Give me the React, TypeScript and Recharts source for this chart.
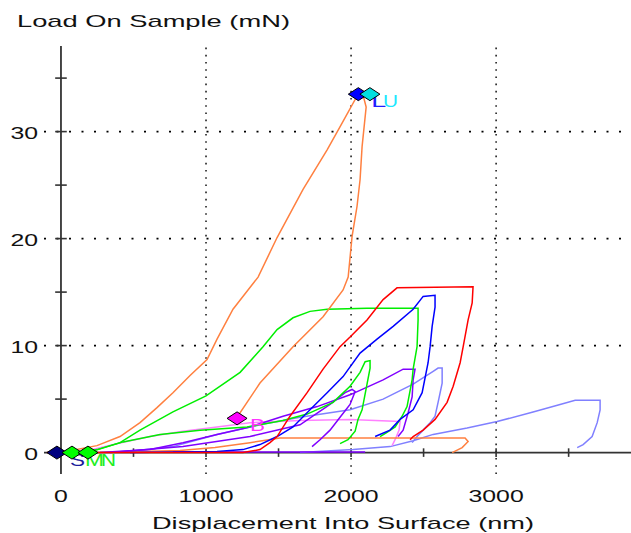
import React from "react";
import {
  ComposedChart, Line, Scatter, XAxis, YAxis, ReferenceLine,
} from "recharts";

// displacement (nm) / load (mN)
const orangeBigX = [0, 248, 407, 545, 662, 772, 890, 1007, 1076, 1186, 1359, 1490, 1669, 1835, 1938, 2028, 2041, 2083, 2104, 2076, 2062, 2041, 2007, 1980, 1945, 1807, 1600, 1372, 1234, 1179];
const orangeBigY = [0, 0.65, 1.5, 2.8, 4.2, 5.6, 7.2, 8.7, 10.6, 13.4, 16.4, 20.1, 24.6, 28.3, 30.8, 33.0, 33.5, 33.4, 32.3, 28.6, 25.5, 23.0, 20.2, 16.4, 15.2, 12.7, 9.9, 6.5, 3.7, 3.1];

const orangeSmallX = [269, 821, 1062, 1303, 1510, 2786, 2807, 2766, 2697];
const orangeSmallY = [0, 0.2, 0.47, 0.93, 1.36, 1.36, 1.03, 0.47, 0];

const greenBigX = [131, 248, 407, 545, 772, 1000, 1235, 1393, 1490, 1600, 1717, 1835, 2110, 2462, 2462, 2455, 2428, 2421, 2386, 2352, 2304, 2248, 2200];
const greenBigY = [0, 0.28, 0.93, 2.1, 3.8, 5.3, 7.5, 9.9, 11.5, 12.6, 13.2, 13.4, 13.5, 13.5, 12.4, 9.9, 7.8, 6.8, 4.3, 3.4, 2.4, 1.9, 1.5];

const greenSmallX = [186, 428, 683, 959, 1283, 1531, 1697, 1876, 1993, 2062, 2097, 2131, 2131, 2110, 2076, 2048, 2028, 1979, 1924];
const greenSmallY = [0, 1.0, 1.7, 2.1, 2.4, 3.0, 3.6, 4.7, 6.2, 7.5, 8.5, 8.6, 7.9, 6.4, 4.0, 3.1, 2.0, 1.2, 0.84];

const redX = [-97, 1255, 1372, 1441, 1490, 1579, 1697, 1807, 1924, 1993, 2110, 2221, 2317, 2841, 2835, 2807, 2773, 2752, 2704, 2662, 2579, 2497, 2428, 2407];
const redY = [0, 0, 0.28, 0.93, 1.5, 3.4, 5.6, 7.8, 9.9, 10.8, 12.4, 14.3, 15.4, 15.5, 14.0, 12.4, 9.9, 8.4, 6.2, 4.7, 3.1, 2.1, 1.5, 1.2];

const blueX = [476, 1076, 1255, 1372, 1490, 1600, 1717, 1835, 1945, 2062, 2179, 2290, 2428, 2497, 2579, 2579, 2559, 2545, 2531, 2490, 2428, 2338, 2269, 2166];
const blueY = [0, 0.1, 0.28, 0.75, 1.5, 2.4, 4.0, 5.6, 7.1, 9.3, 10.6, 11.8, 13.4, 14.6, 14.7, 13.6, 11.8, 9.9, 8.4, 5.6, 4.0, 3.1, 2.1, 1.5];

const purpleBigX = [269, 614, 841, 1076, 1303, 1531, 1766, 1993, 2221, 2359, 2441, 2428, 2421, 2393, 2359, 2324];
const purpleBigY = [0, 0.28, 0.93, 1.7, 2.4, 3.4, 4.3, 5.4, 6.8, 7.8, 7.8, 6.8, 5.2, 3.7, 2.1, 1.5];

const purpleSmallX = [338, 841, 1303, 1648, 1855, 1959, 2007, 2028, 1993, 1924, 1855, 1786, 1731];
const purpleSmallY = [0, 0.56, 1.5, 2.6, 4.5, 5.6, 5.9, 5.7, 4.5, 3.3, 2.1, 1.2, 0.56];

const purpleFlatX = [772, 2097];
const purpleFlatY = [0.05, 0.05];

const lavenderX = [407, 772, 1076, 1372, 1648, 1993, 2221, 2428, 2566, 2600, 2628, 2628, 2600, 2579, 2545, 2497, 2455, 2421];
const lavenderY = [0, 0.56, 1.7, 2.6, 3.3, 4.0, 5.0, 6.4, 7.6, 7.9, 7.9, 6.5, 4.7, 3.4, 2.8, 2.1, 1.5, 0.93];

const lavenderLongX = [1648, 2014, 2269, 2428, 2566, 2800, 3007, 3255, 3441, 3545, 3717, 3717, 3697, 3662, 3600, 3559];
const lavenderLongY = [0, 0.28, 0.56, 1.1, 1.7, 2.3, 2.9, 3.8, 4.5, 4.9, 4.9, 4.0, 2.8, 1.5, 0.75, 0.47];

const pinkX = [131, 407, 614, 841, 1076, 1303, 1648, 1993, 2338, 2331, 2310, 2283];
const pinkY = [0, 0.9, 1.5, 2.0, 2.4, 2.8, 3.0, 3.1, 2.9, 2.1, 1.4, 0.65];

// segment markers
const markerLabels = ["S", "M", "N", "B", "L", "U"];
const markerX = [-28, 76, 186, 1214, 2050, 2130];
const markerY = [0, 0, 0, 3.2, 33.5, 33.5];

const xTicks = [0, 1000, 2000, 3000];
const yTicks = [0, 10, 20, 30];
const xMinor = [500, 1000, 1500, 2000, 2500, 3000, 3500];
const yMinor = [5, 10, 15, 20, 25, 30, 35];

const markerFill: Record<string, string> = {
  S: "#000080", M: "#00ff00", N: "#00ff00", B: "#ff00ff", L: "#0000ff", U: "#00e0e0",
};
const markerText: Record<string, string> = {
  S: "#1c1c9c", M: "#22ee22", N: "#22ee22", B: "#ff33ff", L: "#2020ff", U: "#20e8ff",
};

const zip = (xs: number[], ys: number[]) => xs.map((x, i) => ({ x, y: ys[i] }));

const markers = markerLabels.map((label, i) => ({ x: markerX[i], y: markerY[i], label }));

const series = [
  { name: "lavenderLong", data: zip(lavenderLongX, lavenderLongY), color: "#8080ff" },
  { name: "lavender", data: zip(lavenderX, lavenderY), color: "#8080ff" },
  { name: "pink", data: zip(pinkX, pinkY), color: "#ff80ff" },
  { name: "orangeSmall", data: zip(orangeSmallX, orangeSmallY), color: "#ff8040" },
  { name: "purpleFlat", data: zip(purpleFlatX, purpleFlatY), color: "#8000ff" },
  { name: "purpleSmall", data: zip(purpleSmallX, purpleSmallY), color: "#8000ff" },
  { name: "purpleBig", data: zip(purpleBigX, purpleBigY), color: "#8000ff" },
  { name: "greenSmall", data: zip(greenSmallX, greenSmallY), color: "#00ee00" },
  { name: "greenBig", data: zip(greenBigX, greenBigY), color: "#00ee00" },
  { name: "blue", data: zip(blueX, blueY), color: "#0000ff" },
  { name: "red", data: zip(redX, redY), color: "#ff0000" },
  { name: "orangeBig", data: zip(orangeBigX, orangeBigY), color: "#ff8040" },
];

const FONT = "'Liberation Sans', Arial, sans-serif";
const DIGIT_W = 13.8;

function XTick(props: any) {
  const { x, y, payload } = props;
  const s = String(payload.value);
  return (
    <text x={x} y={y + 27.5} textAnchor="middle" fontSize={16.5} fontFamily={FONT} fill="#111"
      textLength={s.length * DIGIT_W} lengthAdjust="spacingAndGlyphs">{s}</text>
  );
}

function YTick(props: any) {
  const { x, y, payload } = props;
  const s = String(payload.value);
  return (
    <text x={x - 6} y={y + 7} textAnchor="end" fontSize={16.5} fontFamily={FONT} fill="#111"
      textLength={s.length * DIGIT_W} lengthAdjust="spacingAndGlyphs">{s}</text>
  );
}

function Marker(props: any) {
  const { cx, cy, payload } = props;
  const l = payload.label;
  return (
    <g>
      <polygon
        points={`${cx - 10},${cy} ${cx},${cy - 6.5} ${cx + 10},${cy} ${cx},${cy + 6.5}`}
        fill={markerFill[l]} stroke="#000" strokeWidth={1}
      />
      <text x={cx + 13} y={cy + 13} fontSize={17} fontFamily={FONT} fill={markerText[l]}
        textLength={l === "M" ? 19 : 15} lengthAdjust="spacingAndGlyphs">{l}</text>
    </g>
  );
}

export default function App() {
  return (
    <div style={{ position: "absolute", left: 0, top: 0, width: 631, height: 533, background: "#fff" }}>
      <ComposedChart width={631} height={533} margin={{ top: 46, right: 0, bottom: 29, left: 0 }}>
        <XAxis type="number" dataKey="x" domain={[-117, 3930]} ticks={xTicks} allowDataOverflow
          axisLine={false} tickLine={false} tickSize={0} tickMargin={0} height={30} tick={<XTick />} />
        <YAxis type="number" dataKey="y" domain={[-2, 38]} ticks={yTicks} allowDataOverflow
          axisLine={false} tickLine={false} tickSize={0} tickMargin={0} width={44} tick={<YTick />} />
        {yTicks.filter((v) => v > 0).map((v) => (
          <ReferenceLine key={"gy" + v} y={v} stroke="#000" strokeWidth={1.6} strokeDasharray="2 10.5" />
        ))}
        {xTicks.filter((v) => v > 0).map((v) => (
          <ReferenceLine key={"gx" + v} x={v} stroke="#000" strokeWidth={1.4} strokeDasharray="1.6 5.6" />
        ))}
        <ReferenceLine y={0} stroke="#333" strokeWidth={1.8} />
        <ReferenceLine x={0} stroke="#333" strokeWidth={1.8} />
        {xMinor.map((v) => (
          <ReferenceLine key={"tx" + v} segment={[{ x: v, y: -0.4 }, { x: v, y: 0.4 }]} stroke="#333" strokeWidth={1.6} />
        ))}
        {yMinor.map((v) => (
          <ReferenceLine key={"ty" + v} segment={[{ x: -40, y: v }, { x: 40, y: v }]} stroke="#333" strokeWidth={1.6} />
        ))}
        {series.map((s) => (
          <Line key={s.name} data={s.data} dataKey="y" type="linear" stroke={s.color} strokeWidth={1.5}
            dot={false} activeDot={false} isAnimationActive={false} />
        ))}
        <Scatter data={markers} dataKey="y" shape={<Marker />} isAnimationActive={false} />
      </ComposedChart>
      <svg width={631} height={533} style={{ position: "absolute", left: 0, top: 0, pointerEvents: "none" }}>
        <text x={17} y={27} fontSize={17} fontFamily={FONT} fill="#111" textLength={273} lengthAdjust="spacingAndGlyphs">
          Load On Sample (mN)
        </text>
        <text x={343} y={529} textAnchor="middle" fontSize={17} fontFamily={FONT} fill="#111" textLength={382} lengthAdjust="spacingAndGlyphs">
          Displacement Into Surface (nm)
        </text>
      </svg>
    </div>
  );
}
